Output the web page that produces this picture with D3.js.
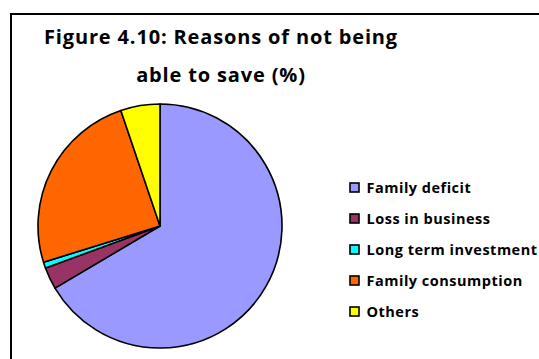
<!DOCTYPE html>
<html>
<head>
<meta charset="utf-8">
<script src="https://d3js.org/d3.v7.min.js"></script>
<style>
    body { margin: 0; background: #fff; }
    text { font-family: "Open Sans", Lato, sans-serif; font-weight: bold; fill: #000; }
</style>
</head>
<body>
<div id="chart"></div>
<script>
// reasons and shares (%)
const categories = ["Family deficit", "Loss in business", "Long term investment", "Family consumption", "Others"];
const shares = [66.5, 2.9, 0.8, 24.6, 5.2];
const colors = ["#9999FF", "#993366", "#00FFFF", "#FF6600", "#FFFF00"];
const titleLines = ["Figure 4.10: Reasons of not being", "able to save (%)"];

const width = 539, height = 359;

const svg = d3.select("#chart")
    .append("svg")
    .attr("width", width)
    .attr("height", height);

// chart frame, runs off the right and bottom edges in the original
svg.append("rect")
    .attr("x", 11)
    .attr("y", 14)
    .attr("width", 600)
    .attr("height", 400)
    .attr("fill", "#fff")
    .attr("stroke", "#000")
    .attr("stroke-width", 2);

// title
svg.selectAll(".title")
    .data(titleLines)
    .enter().append("text")
    .attr("class", "title")
    .attr("x", 221)
    .attr("y", (d, i) => 44 + i * 38)
    .attr("text-anchor", "middle")
    .style("font-size", "20px")
    .style("letter-spacing", "0.85px")
    .text(d => d);

const data = categories.map((c, i) => ({ name: c, value: shares[i], color: colors[i] }));

const pie = d3.pie()
    .value(d => d.value)
    .sort(null);

const arc = d3.arc()
    .innerRadius(0)
    .outerRadius(122);

const g = svg.append("g")
    .attr("transform", "translate(160,226)");

g.selectAll("path")
    .data(pie(data))
    .enter().append("path")
    .attr("d", arc)
    .attr("fill", d => d.data.color)
    .attr("stroke", "#000")
    .attr("stroke-width", 1.6)
    .attr("stroke-linejoin", "round");

// legend
const legend = svg.append("g")
    .attr("transform", "translate(350,183)");

const rows = legend.selectAll("g")
    .data(data)
    .enter().append("g")
    .attr("transform", (d, i) => "translate(0," + (i * 31) + ")");

rows.append("rect")
    .attr("width", 9)
    .attr("height", 9)
    .attr("fill", d => d.color)
    .attr("stroke", "#000")
    .attr("stroke-width", 1.6);

rows.append("text")
    .attr("x", 16.5)
    .attr("y", 9.5)
    .style("font-size", "14.5px")
    .style("letter-spacing", "0.5px")
    .text(d => d.name);
</script>
</body>
</html>
